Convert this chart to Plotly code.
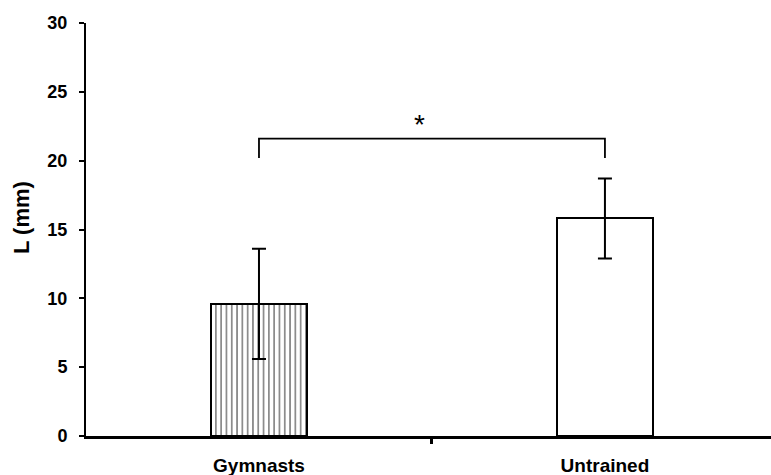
import plotly.graph_objects as go

categories = ["Gymnasts", "Untrained"]
means = [9.6, 15.8]
errors = [4.0, 2.9]
bracket_y_low = 20.2
bracket_y_high = 21.6
star_y = 22.6
y_ticks = [0, 5, 10, 15, 20, 25, 30]

FONT = "Liberation Sans, Arial, sans-serif"
xs = [0, 1]

fig = go.Figure()
fig.add_trace(go.Bar(
    x=[xs[0]], y=[means[0]], width=0.277,
    marker=dict(color="white", line=dict(color="black", width=2),
                pattern=dict(shape="|", fgcolor="black", bgcolor="white", size=5.3, solidity=0.3)),
    error_y=dict(type="data", array=[errors[0]], color="black", thickness=2, width=7),
    showlegend=False,
))
fig.add_trace(go.Bar(
    x=[xs[1]], y=[means[1]], width=0.277,
    marker=dict(color="white", line=dict(color="black", width=2)),
    error_y=dict(type="data", array=[errors[1]], color="black", thickness=2, width=7),
    showlegend=False,
))
fig.add_trace(go.Scatter(
    x=[xs[0], xs[0], xs[1], xs[1]],
    y=[bracket_y_low, bracket_y_high, bracket_y_high, bracket_y_low],
    mode="lines", line=dict(color="black", width=1.8), showlegend=False, hoverinfo="skip",
))
fig.add_annotation(x=0.465, y=star_y, text="*", showarrow=False, yanchor="middle",
                   font=dict(family=FONT, size=28, color="black"))
fig.add_annotation(xref="paper", yref="paper", x=-0.095, y=0.53, text="<b>L (mm)</b>",
                   textangle=-90, showarrow=False, xanchor="center", yanchor="middle",
                   font=dict(family=FONT, size=22, color="black"))

fig.update_layout(
    width=771, height=475,
    margin=dict(l=86, r=0, t=23, b=39),
    plot_bgcolor="white", paper_bgcolor="white",
    bargap=0,
    xaxis=dict(
        range=[-0.5, 1.48], tickvals=xs, ticktext=[f"<b>{c}</b>" for c in categories],
        ticks="", showline=True, linecolor="black", linewidth=3, showgrid=False, zeroline=False,
        tickfont=dict(family=FONT, size=19, color="black"), ticklabelstandoff=10,
        automargin=False,
        minor=dict(tickvals=[0.5], ticks="outside", ticklen=5, tickwidth=3, tickcolor="black", showgrid=False),
    ),
    yaxis=dict(
        range=[0, 30], tickvals=y_ticks, ticktext=[f"<b>{t}</b>" for t in y_ticks],
        ticks="outside", ticklen=5, tickwidth=2, tickcolor="black",
        showline=True, linecolor="black", linewidth=2, showgrid=False, zeroline=False,
        tickfont=dict(family=FONT, size=18, color="black"), ticklabelstandoff=8,
        automargin=False,
    ),
)
fig.write_html("out.html")
